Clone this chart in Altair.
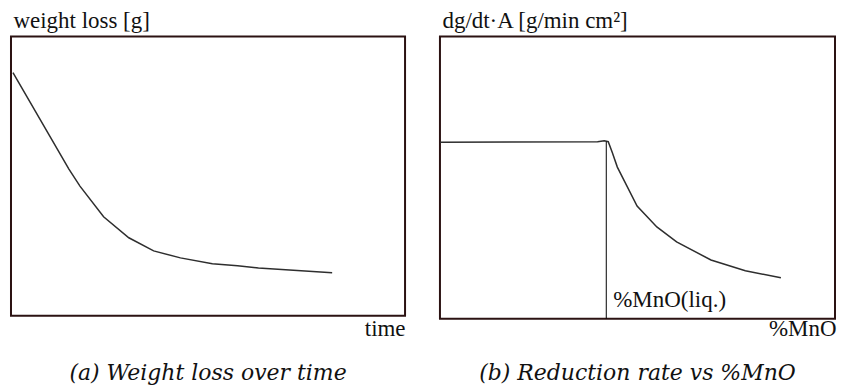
import altair as alt
import pandas as pd

# ---- data (arbitrary 0-100 units) ----
time_x = [0.5, 14.7, 17.5, 23.5, 29.9, 36.2, 43.0, 51.1, 57.5, 62.8, 81.5]
weight_y = [87.0, 52.5, 46.4, 35.4, 27.9, 23.2, 20.7, 18.6, 17.9, 17.1, 15.4]

mno_x = [0.0, 39.9, 41.6, 42.6, 43.6, 44.9, 49.9, 54.9, 59.9, 68.6, 77.3, 86.3]
rate_y = [62.5, 62.7, 63.0, 62.7, 59.0, 53.7, 39.9, 32.5, 27.2, 20.8, 17.0, 14.5]

liq_x = [42.1]
liq_top = [62.7]
liq_label = ["%MnO(liq.)"]
liq_label_y = [4.2]

titles = ["weight loss [g]", "dg/dt·A [g/min cm²]"]
xtitles = ["time", "%MnO"]
captions = ["(a) Weight loss over time", "(b) Reduction rate vs %MnO"]

SERIF = "Liberation Serif"
CAPFONT = "DejaVu Serif"
LINE = "#2e2e2e"
BOX = "#2b1212"
TXT = "#111111"

df_a = pd.DataFrame({"x": time_x, "y": weight_y, "i": range(len(time_x))})
df_b = pd.DataFrame({"x": mno_x, "y": rate_y, "i": range(len(mno_x))})
df_rule = pd.DataFrame({"x": liq_x, "y": liq_top})
df_lab = pd.DataFrame({"x": liq_x, "y": liq_label_y, "t": liq_label})

axis_off = dict(domain=False, ticks=False, labels=False, grid=False)


def xenc(title, w, ty):
    return alt.X("x:Q", scale=alt.Scale(domain=[0, 100], nice=False, zero=False),
                 axis=alt.Axis(title=title, titleFont=SERIF, titleFontSize=23,
                               titleFontWeight="normal", titleColor=TXT,
                               titleAlign="right", titleBaseline="alphabetic",
                               titleX=w, titleY=ty, **axis_off))


def yenc(title):
    return alt.Y("y:Q", scale=alt.Scale(domain=[0, 100], nice=False, zero=False),
                 axis=alt.Axis(title=title, titleFont=SERIF, titleFontSize=23,
                               titleFontWeight="normal", titleColor=TXT,
                               titleAngle=0, titleAlign="left",
                               titleBaseline="alphabetic",
                               titleX=2, titleY=-9, **axis_off))


def caption(text):
    return alt.TitleParams(text, orient="bottom", anchor="middle", font=CAPFONT,
                           fontStyle="italic", fontWeight="normal", fontSize=22,
                           color=TXT, offset=22)


left = alt.Chart(df_a).mark_line(color=LINE, strokeWidth=1.5).encode(
    x=xenc(xtitles[0], 395, 20), y=yenc(titles[0]), order="i:Q"
).properties(width=395, height=280, title=caption(captions[0]))

line_b = alt.Chart(df_b).mark_line(color=LINE, strokeWidth=1.5).encode(
    x=xenc(xtitles[1], 397, 17), y=yenc(titles[1]), order="i:Q"
)
rule_b = alt.Chart(df_rule).mark_rule(color="#000000", strokeWidth=1).encode(
    x="x:Q", y="y:Q", y2=alt.datum(0)
)
lab_b = alt.Chart(df_lab).mark_text(align="left", baseline="alphabetic", dx=7,
                                    font=SERIF, fontSize=23, color=TXT).encode(
    x="x:Q", y="y:Q", text="t:N"
)
right = alt.layer(line_b, rule_b, lab_b).properties(
    width=396, height=283, title=caption(captions[1]))

chart = alt.hconcat(left, right, spacing=35, bounds="flush").properties(
    padding={"left": 0, "top": 0, "right": 0, "bottom": 0},
    background="white",
).configure_view(stroke=BOX, strokeWidth=2)

chart.save("out.html", embed_options={"renderer": "svg", "actions": False})
